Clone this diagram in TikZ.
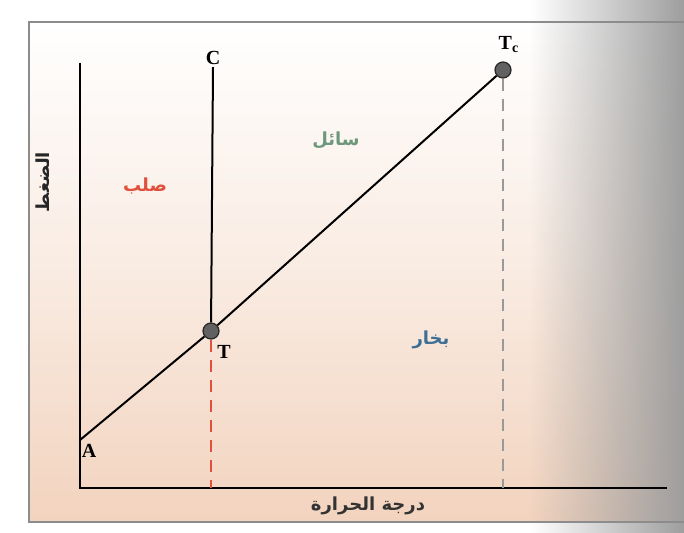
\documentclass[tikz,border=0pt]{standalone}
\usepackage{fontspec}
\setmainfont{Liberation Serif}
\newfontfamily\arabicfont[Script=Arabic]{DejaVu Sans}
\TeXXeTstate=1
\usetikzlibrary{fadings}
\definecolor{peach}{HTML}{F2D3BE}
\definecolor{solidred}{HTML}{E0503C}
\definecolor{liquidgreen}{HTML}{6F977C}
\definecolor{vapourblue}{HTML}{3D6E96}
\tikzset{
  point/.style={circle,fill=black!62,draw=black!85,line width=0.6pt,inner sep=0pt,minimum size=8pt},
  phase/.style={font=\arabicfont\bfseries\small},
  letter/.style={font=\bfseries\normalsize,inner sep=1pt}
}
\begin{document}
\begin{tikzpicture}[x=0.5pt,y=-0.5pt]
\useasboundingbox (0,0) rectangle (684,533);
% paper
\shade[top color=white, bottom color=peach, middle color=peach!45] (29,22) rectangle (684,522);
\fill[black!38, path fading=west] (530,0) rectangle (684,533);
\draw[black!45, line width=0.8pt] (684,22) -- (29,22) -- (29,522) -- (684,522);
% points
\coordinate (O) at (80,488);
\coordinate (Ytop) at (80,63);
\coordinate (Xend) at (667,488);
\coordinate (A) at (80,440);
\node[point] (T) at (211,331) {};
\node[point] (Tc) at (503,70) {};
\coordinate (Tfoot) at (211,488);
\coordinate (Tcfoot) at (503,488);
\node[letter] (C) at (213,58) {C};
% axes
\draw[line width=1pt] (Ytop) -- (O) -- (Xend);
% curves
\draw[line width=1pt] (A) -- (T) -- (Tc);
\draw[line width=1pt] (C.south) -- (T);
\draw[solidred, line width=1.2pt, dash pattern=on 6pt off 4pt] (T) -- (Tfoot);
\draw[black!40, line width=1.4pt, dash pattern=on 6pt off 4pt] (Tc) -- (Tcfoot);
% labels
\node[letter] (Alab) at (89,451) {A};
\node[letter] (Tlab) at (224,352) {T};
\node[letter] (Tclab) at (509,45) {T\textsubscript{c}};
\node[phase, text=solidred] (solid) at (145,186) {\beginR صلب\endR};
\node[phase, text=liquidgreen] (liquid) at (336,140) {\beginR سائل\endR};
\node[phase, text=vapourblue] (vapour) at (431,340) {\beginR بخار\endR};
\node[phase, black!80] (xlab) at (368,506) {\beginR درجة الحرارة\endR};
\node[phase, black!85, rotate=90] (ylab) at (43,182) {\beginR الضغط\endR};
\end{tikzpicture}
\end{document}
